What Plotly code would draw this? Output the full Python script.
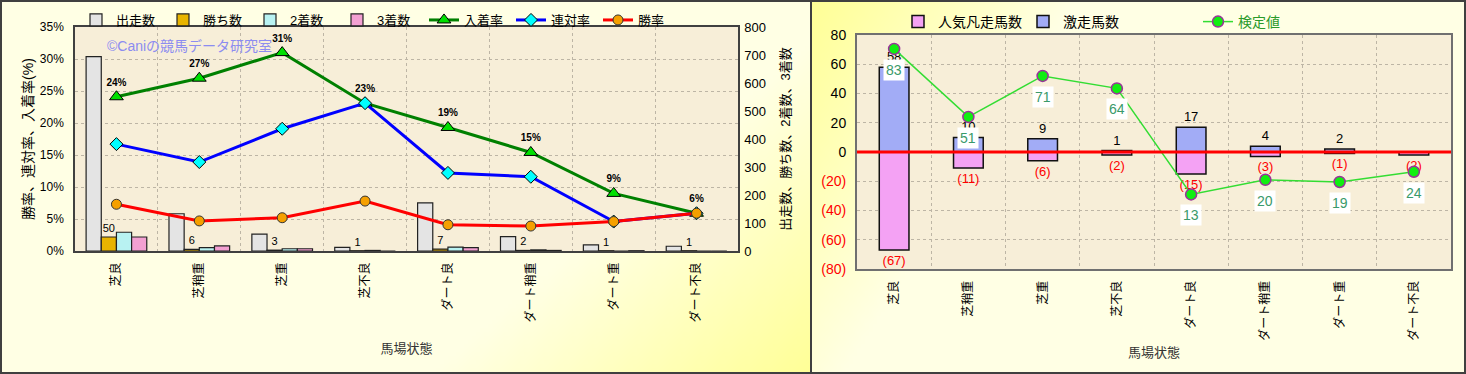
import base64
import struct
import zlib
import numpy as np
import plotly.graph_objects as go

W, H = 1466, 374
FONT = "Liberation Sans, Noto Sans CJK JP, sans-serif"

# ---------------- data ----------------
categories = ["芝良", "芝稍重", "芝重", "芝不良", "ダート良", "ダート稍重", "ダート重", "ダート不良"]

starts = [694, 133, 60, 13, 172, 51, 22, 17]        # 出走数
wins = [50, 6, 3, 1, 7, 2, 1, 1]                    # 勝ち数
seconds = [67, 12, 8, 2, 14, 4, 0, 0]               # 2着数
thirds = [50, 18, 8, 0, 12, 2, 1, 0]                # 3着数

place_rate = [0.241, 0.270, 0.310, 0.231, 0.193, 0.154, 0.090, 0.059]   # 入着率
quinella_rate = [0.167, 0.139, 0.191, 0.231, 0.122, 0.116, 0.046, 0.059]  # 連対率
win_rate = [0.073, 0.047, 0.052, 0.078, 0.041, 0.039, 0.046, 0.059]     # 勝率

gekisou = [58, 10, 9, 1, 17, 4, 2, 0]               # 激走馬数
bonsou = [-67, -11, -6, -2, -15, -3, -1, -2]        # 人気凡走馬数
kentei = [70.5, 24, 52, 43.5, -29, -19, -20.5, -13.5]  # 検定値 (plotted)
kentei_labels = ["83", "51", "71", "64", "13", "20", "19", "24"]

pct_ticks = [0, 0.05, 0.10, 0.15, 0.20, 0.25, 0.30, 0.35]
cnt_ticks = [0, 100, 200, 300, 400, 500, 600, 700, 800]
r_ticks = [-80, -60, -40, -20, 0, 20, 40, 60, 80]

# ---------------- geometry (pixels) ----------------
L_X0, L_X1, L_Y0, L_Y1 = 75, 738, 27, 251
R_X0, R_X1, R_Y0, R_Y1 = 857, 1451, 35, 269
DIV = 811


def fx(p):
    return p / W


def fy(p):
    return 1 - p / H


# ---------------- background gradient images ----------------
def png_uri(arr):
    h, w, _ = arr.shape
    raw = b"".join(b"\x00" + arr[i].tobytes() for i in range(h))

    def chunk(t, d):
        c = struct.pack(">I", len(d)) + t + d
        return c + struct.pack(">I", zlib.crc32(t + d) & 0xFFFFFFFF)

    data = (b"\x89PNG\r\n\x1a\n"
            + chunk(b"IHDR", struct.pack(">IIBBBBB", w, h, 8, 2, 0, 0, 0))
            + chunk(b"IDAT", zlib.compress(raw, 9))
            + chunk(b"IEND", b""))
    return "data:image/png;base64," + base64.b64encode(data).decode()


light = np.array([255, 255, 228], float)
yellow = np.array([255, 255, 150], float)


def grad_img(pw, ph, fn, scale=4):
    w, h = pw // scale, ph // scale
    xs = (np.arange(w) + 0.5) * scale
    ys = (np.arange(h) + 0.5) * scale
    X, Y = np.meshgrid(xs, ys)
    t = np.clip(fn(X, Y), 0, 1)[..., None]
    arr = light + (yellow - light) * t
    return png_uri(arr.astype(np.uint8))


left_img = grad_img(DIV, H, lambda X, Y: 1 - ((DIV - X) / 380 + (H - Y) / 330))
right_img = grad_img(W - DIV, H, lambda X, Y: 1 - (X / 260 + Y / 420))

grid = dict(showgrid=True, gridcolor="#bdb5a5", griddash="dot", gridwidth=1)

fig = go.Figure()

# ---------------- left chart: bars on count axis ----------------
bar_specs = [
    ("出走数", starts, "#e4e4e4"),
    ("勝ち数", wins, "#e8b400"),
    ("2着数", seconds, "#b8f2f2"),
    ("3着数", thirds, "#f3a0d2"),
]
for name, vals, col in bar_specs:
    kw = {}
    if name == "勝ち数":
        kw = dict(text=vals, textposition="outside", constraintext="none",
                  textfont=dict(size=11, color="#000"), cliponaxis=False)
    fig.add_trace(go.Bar(x=categories, y=vals, name=name, xaxis="x", yaxis="y",
                         marker=dict(color=col, line=dict(color="#222", width=1.2)),
                         legend="legend", **kw))

# ---------------- left chart: rate lines ----------------
fig.add_trace(go.Scatter(x=categories, y=place_rate, name="入着率", xaxis="x", yaxis="y2",
                         mode="lines+markers+text", texttemplate="%{y:.0%}",
                         textposition="top center",
                         textfont=dict(size=10, color="#000", weight="bold"),
                         line=dict(color="#008000", width=3),
                         marker=dict(symbol="triangle-up", size=12, color="#00e000",
                                     line=dict(color="#000", width=1)),
                         cliponaxis=False, legend="legend"))
fig.add_trace(go.Scatter(x=categories, y=quinella_rate, name="連対率", xaxis="x", yaxis="y2",
                         mode="lines+markers",
                         line=dict(color="#0000ff", width=3),
                         marker=dict(symbol="diamond", size=10, color="#00ffff",
                                     line=dict(color="#000", width=1)),
                         cliponaxis=False, legend="legend"))
fig.add_trace(go.Scatter(x=categories, y=win_rate, name="勝率", xaxis="x", yaxis="y2",
                         mode="lines+markers",
                         line=dict(color="#ff0000", width=3),
                         marker=dict(symbol="circle", size=10, color="#f5a000",
                                     line=dict(color="#333", width=1)),
                         cliponaxis=False, legend="legend"))

# ---------------- right chart ----------------
fig.add_trace(go.Bar(x=categories, y=bonsou, name="人気凡走馬数", xaxis="x2", yaxis="y3",
                     width=0.4, offset=-0.2,
                     text=["(%d)" % abs(v) for v in bonsou], textposition="outside",
                     constraintext="none", cliponaxis=False,
                     textfont=dict(size=13, color="#ff0000"),
                     marker=dict(color="#f4a2f4", line=dict(color="#111", width=1.5)),
                     legend="legend2"))
fig.add_trace(go.Bar(x=categories, y=gekisou, name="激走馬数", xaxis="x2", yaxis="y3",
                     width=0.4, offset=-0.2,
                     text=[str(v) if v else "" for v in gekisou], textposition="outside",
                     constraintext="none", cliponaxis=False,
                     textfont=dict(size=13, color="#000"),
                     marker=dict(color="#a2acf6", line=dict(color="#111", width=1.5)),
                     legend="legend3"))
fig.add_trace(go.Scatter(x=categories, y=kentei,
                         name='<span style="color:#2a9a2a">検定値</span>',
                         xaxis="x2", yaxis="y3", mode="lines+markers",
                         line=dict(color="#33dd33", width=1.5),
                         marker=dict(size=11, color="#11ee11", line=dict(color="#993399", width=1.5)),
                         cliponaxis=False, legend="legend4"))

annotations = []
for c, v, lab in zip(categories, kentei, kentei_labels):
    annotations.append(dict(x=c, y=v, xref="x2", yref="y3", text=lab, showarrow=False,
                            yshift=-21, bgcolor="#ffffff", borderpad=2,
                            font=dict(size=14, color="#3a9a6a")))
annotations.append(dict(x=fx(189), y=fy(46), xref="paper", yref="paper",
                        xanchor="center", yanchor="middle",
                        text="©Caniの競馬データ研究室", showarrow=False,
                        font=dict(size=14, color="#8c8cf0")))

shapes = [
    dict(type="rect", xref="paper", yref="paper", x0=fx(L_X0), x1=fx(L_X1), y0=fy(L_Y1), y1=fy(L_Y0),
         fillcolor="#f7eed8", line=dict(width=0), layer="below"),
    dict(type="rect", xref="paper", yref="paper", x0=fx(R_X0), x1=fx(R_X1), y0=fy(R_Y1), y1=fy(R_Y0),
         fillcolor="#f7eed8", line=dict(width=0), layer="below"),
    dict(type="line", xref="x2 domain", yref="y3", x0=0, x1=1, y0=0, y1=0,
         line=dict(color="#ff0000", width=3), layer="above"),
    dict(type="rect", xref="paper", yref="paper", x0=fx(1), x1=fx(DIV), y0=fy(H - 1), y1=fy(1),
         line=dict(color="#404040", width=2), layer="above"),
    dict(type="rect", xref="paper", yref="paper", x0=fx(DIV), x1=fx(W - 1), y0=fy(H - 1), y1=fy(1),
         line=dict(color="#404040", width=2), layer="above"),
]

images = [
    dict(source=left_img, xref="paper", yref="paper", x=0, y=1, sizex=fx(DIV), sizey=1,
         sizing="stretch", xanchor="left", yanchor="top", layer="below"),
    dict(source=right_img, xref="paper", yref="paper", x=fx(DIV), y=1, sizex=fx(W - DIV), sizey=1,
         sizing="stretch", xanchor="left", yanchor="top", layer="below"),
]

leg_common = dict(orientation="h", xref="container", yref="container", xanchor="left",
                  yanchor="top", bgcolor="rgba(0,0,0,0)", itemwidth=30, traceorder="normal")

fig.update_layout(
    width=W, height=H, margin=dict(l=0, r=0, t=0, b=0, autoexpand=False),
    paper_bgcolor="#ffffe4", plot_bgcolor="rgba(0,0,0,0)",
    font=dict(family=FONT, size=12, color="#000"),
    barmode="group", bargap=0.268, bargroupgap=0,
    showlegend=True,
    legend=dict(x=fx(76), y=fy(5), font=dict(size=13), entrywidth=42,
                entrywidthmode="pixels", **leg_common),
    legend2=dict(x=fx(898), y=fy(6), font=dict(size=14), **leg_common),
    legend3=dict(x=fx(1023), y=fy(6), font=dict(size=14), **leg_common),
    legend4=dict(x=fx(1198), y=fy(6), font=dict(size=14), **leg_common),
    xaxis=dict(domain=[fx(L_X0), fx(L_X1)], anchor="y", type="category",
               categoryorder="array", categoryarray=categories,
               tickson="boundaries", ticks="", tickangle=-90, tickfont=dict(size=12),
               ticklabelstandoff=5,
               showline=True, linecolor="#404040", linewidth=1.5, mirror=True,
               title=dict(text="馬場状態", font=dict(size=13, color="#333"), standoff=22),
               **grid),
    yaxis=dict(domain=[fy(L_Y1), fy(L_Y0)], anchor="x", side="right", range=[0, 800],
               tickvals=cnt_ticks, ticks="", showgrid=False, tickfont=dict(size=13),
               ticklabelstandoff=2,
               showline=True, linecolor="#404040", linewidth=1.5, zeroline=False,
               title=dict(text="出走数、勝ち数、2着数、3着数", font=dict(size=13), standoff=16)),
    yaxis2=dict(overlaying="y", anchor="x", side="left", range=[0, 0.35],
                tickvals=pct_ticks, tickformat=".0%", ticks="", tickfont=dict(size=12),
                ticklabelstandoff=7,
                showline=True, linecolor="#404040", linewidth=1.5, zeroline=False,
                title=dict(text="勝率、連対率、入着率(%)", font=dict(size=14), standoff=3),
                **grid),
    xaxis2=dict(domain=[fx(R_X0), fx(R_X1)], anchor="y3", type="category",
                categoryorder="array", categoryarray=categories,
                tickson="boundaries", ticks="", tickangle=-90, tickfont=dict(size=12),
                ticklabelstandoff=5,
                showline=True, linecolor="#707070", linewidth=2, mirror=True,
                title=dict(text="馬場状態", font=dict(size=13, color="#333"), standoff=8),
                **grid),
    yaxis3=dict(domain=[fy(R_Y1), fy(R_Y0)], anchor="x2", range=[-80, 80],
                tickvals=r_ticks,
                ticktext=[('<span style="color:#ff0000">(%d)</span>' % -v) if v < 0 else str(v)
                          for v in r_ticks],
                ticks="", tickfont=dict(size=14), zeroline=False, ticklabelstandoff=6,
                showline=True, linecolor="#707070", linewidth=2, mirror=True,
                **grid),
    annotations=annotations, shapes=shapes, images=images,
)

fig.write_html("out.html")
